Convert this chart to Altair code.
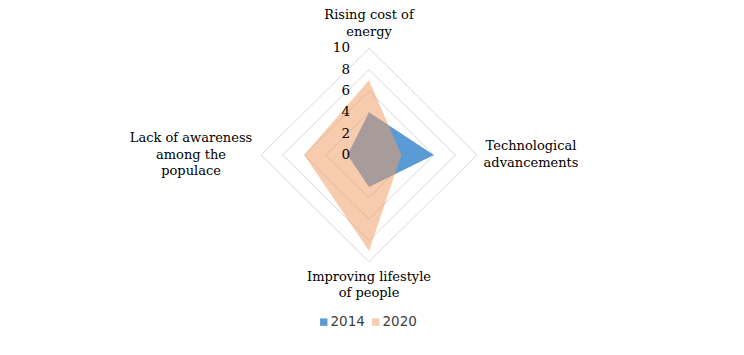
import altair as alt
import pandas as pd

# ---- data ----
categories = [
    "Rising cost of energy",
    "Technological advancements",
    "Improving lifestyle of people",
    "Lack of awareness among the populace",
]
display_labels = [
    "Rising cost of\nenergy",
    "Technological\nadvancements",
    "Improving lifestyle\nof people",
    "Lack of awareness\namong the\npopulace",
]
series = ["2014", "2020"]
values_2014 = [4, 6, 3, 2]
values_2020 = [7, 3, 9, 6]
ticks = [0, 2, 4, 6, 8, 10]
axis_max = 10

fill_colors = ["#5B9BD5", "#F09D63"]
fill_opacities = [1.0, 0.52]
legend_colors = ["#5B9BD5", "#F7CCAE"]

n = len(categories)

poly_rows = []
for s, vals in zip(series, [values_2014, values_2020]):
    for i, (c, v) in enumerate(zip(categories, vals)):
        poly_rows.append({"series": s, "idx": i, "category": c, "value": v})
poly_df = pd.DataFrame(poly_rows)

grid_df = pd.DataFrame(
    [{"level": t, "idx": i} for t in ticks[1:] for i in range(n)]
)
label_df = pd.DataFrame(
    [{"idx": i, "label": display_labels[i], "value": axis_max} for i in range(n)]
)
tick_df = pd.DataFrame({"tick": ticks})

step = f"(2*PI/{n})"
X = alt.X("x:Q", scale=alt.Scale(domain=[-33.43, 33.98], nice=False, zero=False), axis=None)
Y = alt.Y("y:Q", scale=alt.Scale(domain=[-17.99, 13.78], nice=False, zero=False), axis=None)


def polar(chart, rfield):
    return chart.transform_calculate(
        x=f"datum.{rfield}*sin(datum.idx*{step})",
        y=f"datum.{rfield}*cos(datum.idx*{step})",
    )


grid = polar(alt.Chart(grid_df), "level").mark_line(
    interpolate="linear-closed", stroke="#D9D9D9", strokeWidth=1
).encode(x=X, y=Y, detail="level:N", order="idx:Q")

layers = [grid]
for s, col, op in zip(series, fill_colors, fill_opacities):
    layers.append(
        polar(alt.Chart(poly_df), "value")
        .transform_filter(alt.datum.series == s)
        .mark_line(interpolate="linear-closed", strokeWidth=0, strokeOpacity=0, fill=col, fillOpacity=op)
        .encode(x=X, y=Y, order="idx:Q")
    )

# legend carrier (invisible points, visible legend)
legend_layer = (
    polar(alt.Chart(poly_df), "value")
    .mark_square(size=0, opacity=1)
    .encode(
        x=X,
        y=Y,
        fill=alt.Fill(
            "series:N",
            scale=alt.Scale(domain=series, range=legend_colors),
            legend=alt.Legend(
                title=None,
                orient="none",
                legendX=309,
                legendY=307,
                direction="horizontal",
                symbolType="square",
                symbolSize=55,
                symbolStrokeWidth=0,
                symbolOpacity=1,
                labelFont="DejaVu Sans",
                labelFontSize=13.5,
                labelColor="#404040",
                columnPadding=4,
                labelOffset=0,
            ),
        ),
    )
)
layers.append(legend_layer)

label_style = [
    dict(align="center", baseline="middle", dx=0, dy=-33),
    dict(align="center", baseline="middle", dx=54, dy=-9),
    dict(align="center", baseline="middle", dx=0, dy=15),
    dict(align="center", baseline="middle", dx=-70, dy=-17),
]
for i, st in enumerate(label_style):
    layers.append(
        polar(alt.Chart(label_df), "value")
        .transform_filter(alt.datum.idx == i)
        .mark_text(font="DejaVu Serif", fontSize=13, color="#000000", lineBreak="\n", lineHeight=16.5, **st)
        .encode(x=X, y=Y, text="label:N")
    )

tick_layer = (
    alt.Chart(tick_df)
    .transform_calculate(x="0", y="datum.tick")
    .mark_text(font="DejaVu Serif", fontSize=13.5, color="#000000", align="right", baseline="middle", dx=-19)
    .encode(x=X, y=Y, text="tick:N")
)
layers.append(tick_layer)

chart = (
    alt.layer(*layers)
    .properties(width=728, height=339, padding=0)
    .configure_view(stroke=None)
)

chart.save("out.html", embed_options={"renderer": "svg", "actions": False})
